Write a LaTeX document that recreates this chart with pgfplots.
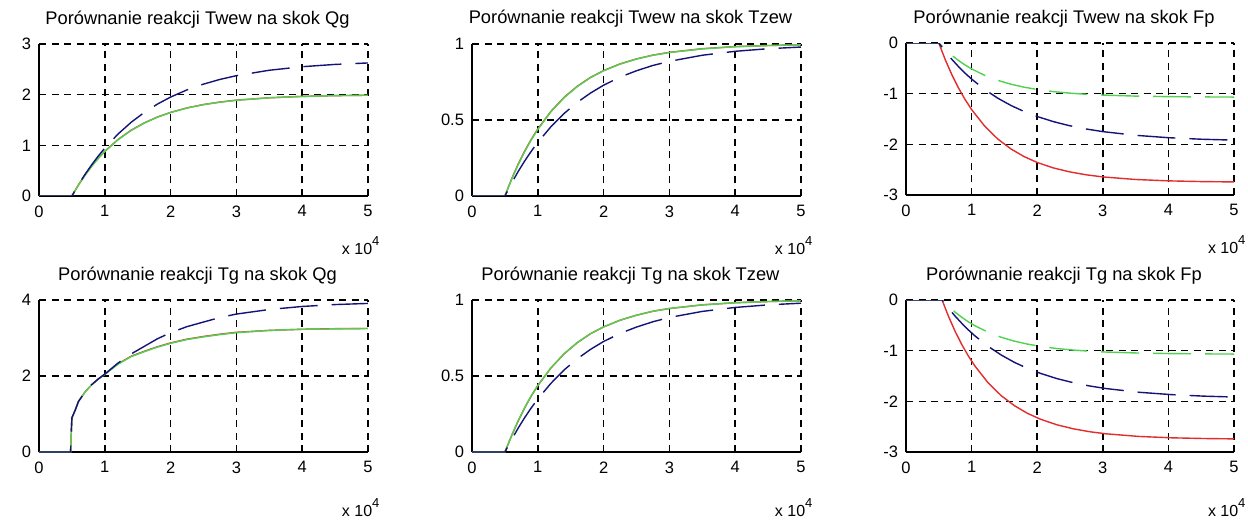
\documentclass[border=0pt]{standalone}
\usepackage{fontspec}
\setmainfont{Liberation Sans}
\usepackage{pgfplots}
\usepackage{pgfplotstable}
\pgfplotsset{compat=1.18}
\definecolor{mred}{RGB}{225,45,45}
\definecolor{mgreen}{RGB}{80,210,80}
\definecolor{mblue}{RGB}{20,20,120}
\newcommand\tfont{\fontsize{18.3}{21}\selectfont}
\newcommand\kfont{\fontsize{16.5}{19}\selectfont}
\newcommand\efont{\fontsize{16}{18}\selectfont}

% Twew <- Qg
\pgfplotstableread{
t r g b
0 0 0 0
0.5 0 0 0
0.6 0.220 0.215 0.224
0.7 0.415 0.410 0.428
0.8 0.589 0.585 0.615
0.9 0.744 0.740 0.787
1.0 0.882 0.878 0.945
1.2 1.114 1.110 1.222
1.4 1.298 1.295 1.454
1.6 1.443 1.440 1.650
1.8 1.559 1.557 1.814
2.0 1.650 1.648 1.953
2.25 1.739 1.737 2.095
2.5 1.805 1.803 2.208
2.75 1.854 1.852 2.301
3.0 1.891 1.890 2.375
3.5 1.939 1.938 2.482
4.0 1.966 1.965 2.552
4.5 1.981 1.981 2.597
5.0 1.989 1.989 2.626
}\tA
% Twew <- Tzew
\pgfplotstableread{
t r g b
0 0 0 0
0.5 0 0 0
0.6 0.110 0.108 0.083
0.7 0.208 0.205 0.160
0.8 0.295 0.292 0.230
0.9 0.372 0.369 0.294
1.0 0.441 0.438 0.353
1.2 0.557 0.555 0.456
1.4 0.649 0.647 0.543
1.6 0.722 0.720 0.616
1.8 0.780 0.779 0.677
2.0 0.825 0.824 0.729
2.25 0.869 0.868 0.782
2.5 0.902 0.901 0.824
2.75 0.927 0.926 0.859
3.0 0.945 0.944 0.886
3.5 0.969 0.968 0.926
4.0 0.983 0.982 0.952
4.5 0.990 0.990 0.969
5.0 0.995 0.995 0.980
}\tB
% Twew <- Fp
\pgfplotstableread{
t r g b
0 0 0 0
0.5 0 0 0
0.6 -0.335 -0.130 -0.169
0.7 -0.629 -0.245 -0.324
0.8 -0.887 -0.345 -0.465
0.9 -1.114 -0.434 -0.595
1.0 -1.313 -0.511 -0.712
1.2 -1.642 -0.639 -0.918
1.4 -1.896 -0.738 -1.090
1.6 -2.091 -0.814 -1.233
1.8 -2.242 -0.872 -1.352
2.0 -2.358 -0.917 -1.451
2.25 -2.467 -0.960 -1.553
2.5 -2.545 -0.990 -1.634
2.75 -2.602 -1.012 -1.698
3.0 -2.643 -1.028 -1.749
3.5 -2.694 -1.048 -1.822
4.0 -2.721 -1.059 -1.869
4.5 -2.735 -1.064 -1.899
5.0 -2.742 -1.067 -1.917
}\tC
% Tg <- Qg
\pgfplotstableread{
t r g b
0 0 0 0
0.48 0 0 0
0.49 0.50 0.50 0.50
0.5 0.90 0.90 0.90
0.55 1.10 1.10 1.10
0.6 1.33 1.33 1.33
0.7 1.58 1.58 1.58
0.8 1.77 1.77 1.77
0.9 1.92 1.92 1.92
1.0 2.05 2.04 2.05
1.2 2.32 2.31 2.34
1.4 2.52 2.51 2.58
1.6 2.65 2.64 2.78
1.8 2.77 2.76 2.98
2.0 2.87 2.86 3.14
2.25 2.97 2.96 3.30
2.5 3.04 3.03 3.42
2.75 3.10 3.09 3.54
3.0 3.15 3.14 3.63
3.5 3.20 3.20 3.75
4.0 3.23 3.23 3.83
4.5 3.245 3.24 3.88
5.0 3.25 3.25 3.91
}\tD
% Tg <- Tzew
\pgfplotstableread{
t r g b
0 0 0 0
0.5 0 0 0
0.6 0.105 0.106 0.080
0.7 0.203 0.204 0.156
0.8 0.290 0.291 0.226
0.9 0.368 0.369 0.290
1.0 0.437 0.438 0.349
1.2 0.553 0.554 0.452
1.4 0.646 0.646 0.540
1.6 0.719 0.720 0.613
1.8 0.778 0.778 0.675
2.0 0.823 0.823 0.727
2.25 0.867 0.867 0.780
2.5 0.900 0.900 0.822
2.75 0.926 0.926 0.857
3.0 0.944 0.944 0.885
3.5 0.968 0.968 0.925
4.0 0.982 0.982 0.951
4.5 0.990 0.990 0.968
5.0 0.995 0.995 0.979
}\tE
% Tg <- Fp
\pgfplotstableread{
t r g b
0 0 0 0
0.55 0 0 0
0.65 -0.330 -0.128 -0.166
0.75 -0.622 -0.242 -0.320
0.85 -0.878 -0.341 -0.460
0.95 -1.104 -0.430 -0.590
1.05 -1.302 -0.507 -0.707
1.25 -1.632 -0.635 -0.913
1.45 -1.887 -0.735 -1.085
1.65 -2.083 -0.811 -1.229
1.85 -2.236 -0.870 -1.349
2.05 -2.353 -0.915 -1.448
2.3 -2.463 -0.958 -1.551
2.55 -2.542 -0.988 -1.632
2.8 -2.600 -1.011 -1.697
3.05 -2.641 -1.027 -1.748
3.55 -2.693 -1.047 -1.821
4.05 -2.720 -1.058 -1.868
4.55 -2.734 -1.064 -1.898
5.0 -2.741 -1.067 -1.915
}\tF

\pgfplotsset{
  mat/.style={
    scale only axis, width=329pt, height=152pt, anchor=south west,
    axis lines=left, axis line style={-, line width=1.6pt, black},
    enlargelimits=false,
    xmin=0, xmax=5, xtick={0,1,2,3,4,5}, xticklabels={0,1,2,3,4,5},
    grid=major, grid style={black, line width=1.5pt, dash pattern=on 7pt off 5.5pt},
    tick style={black, line width=1pt}, major tick length=4pt, tick align=inside,
    /pgf/number format/assume math mode=true,
    ticklabel style={font=\kfont},
    xticklabel style={yshift=-6pt},
    yticklabel style={xshift=-4.5pt},
    title style={font=\tfont, at={(0.5,1)}, anchor=base, yshift=14pt, xshift=-6pt},
  },
  rl/.style={mred, line width=1.4pt},
  gl/.style={mgreen, line width=1.4pt},
  gd/.style={mgreen, line width=1.4pt, dash pattern=on 38pt off 14pt},
  bl/.style={mblue, line width=1.4pt, dash pattern=on 38pt off 14pt},
}

\begin{document}
\begin{tikzpicture}
\fill[white, use as bounding box] (0,0) rectangle (1248pt,520pt);

\begin{axis}[mat, name=a1, at={(39pt,324pt)}, ymin=0, ymax=3, ytick={0,1,2,3}, yticklabels={0,1,2,3},
  title={Porównanie reakcji Twew na skok Qg}]
\addplot[rl] table[x=t,y=r]{\tA};
\addplot[gl] table[x=t,y=g]{\tA};
\addplot[bl] table[x=t,y=b]{\tA};
\end{axis}
\node[anchor=base east, font=\efont] at ([xshift=15pt,yshift=-59pt]a1.south east) {x 10\raisebox{9pt}{\fontsize{13}{13}\selectfont 4}};

\begin{axis}[mat, name=a2, at={(472pt,324pt)}, ymin=0, ymax=1, ytick={0,0.5,1}, yticklabels={0,0.5,1},
  title={Porównanie reakcji Twew na skok Tzew}]
\addplot[rl] table[x=t,y=r]{\tB};
\addplot[gl] table[x=t,y=g]{\tB};
\addplot[bl] table[x=t,y=b]{\tB};
\end{axis}
\node[anchor=base east, font=\efont] at ([xshift=15pt,yshift=-59pt]a2.south east) {x 10\raisebox{9pt}{\fontsize{13}{13}\selectfont 4}};

\begin{axis}[mat, name=a3, at={(906pt,325pt)}, width=328pt, ymin=-3, ymax=0, ytick={-3,-2,-1,0}, yticklabels={-3,-2,-1,0},
  title={Porównanie reakcji Twew na skok Fp}]
\addplot[rl] table[x=t,y=r]{\tC};
\addplot[gd] table[x=t,y=g]{\tC};
\addplot[bl] table[x=t,y=b]{\tC};
\end{axis}
\node[anchor=base east, font=\efont] at ([xshift=15pt,yshift=-59pt]a3.south east) {x 10\raisebox{9pt}{\fontsize{13}{13}\selectfont 4}};

\begin{axis}[mat, name=a4, at={(39pt,68pt)}, ymin=0, ymax=4, ytick={0,2,4}, yticklabels={0,2,4},
  title={Porównanie reakcji Tg na skok Qg}]
\addplot[rl] table[x=t,y=r]{\tD};
\addplot[gl] table[x=t,y=g]{\tD};
\addplot[bl] table[x=t,y=b]{\tD};
\end{axis}
\node[anchor=base east, font=\efont] at ([xshift=15pt,yshift=-64pt]a4.south east) {x 10\raisebox{9pt}{\fontsize{13}{13}\selectfont 4}};

\begin{axis}[mat, name=a5, at={(472pt,68pt)}, ymin=0, ymax=1, ytick={0,0.5,1}, yticklabels={0,0.5,1},
  title={Porównanie reakcji Tg na skok Tzew}]
\addplot[rl] table[x=t,y=r]{\tE};
\addplot[gl] table[x=t,y=g]{\tE};
\addplot[bl] table[x=t,y=b]{\tE};
\end{axis}
\node[anchor=base east, font=\efont] at ([xshift=15pt,yshift=-64pt]a5.south east) {x 10\raisebox{9pt}{\fontsize{13}{13}\selectfont 4}};

\begin{axis}[mat, name=a6, at={(906pt,68pt)}, width=328pt, ymin=-3, ymax=0, ytick={-3,-2,-1,0}, yticklabels={-3,-2,-1,0},
  title={Porównanie reakcji Tg na skok Fp}]
\addplot[rl] table[x=t,y=r]{\tF};
\addplot[gd] table[x=t,y=g]{\tF};
\addplot[bl] table[x=t,y=b]{\tF};
\end{axis}
\node[anchor=base east, font=\efont] at ([xshift=15pt,yshift=-64pt]a6.south east) {x 10\raisebox{9pt}{\fontsize{13}{13}\selectfont 4}};
\end{tikzpicture}
\end{document}
